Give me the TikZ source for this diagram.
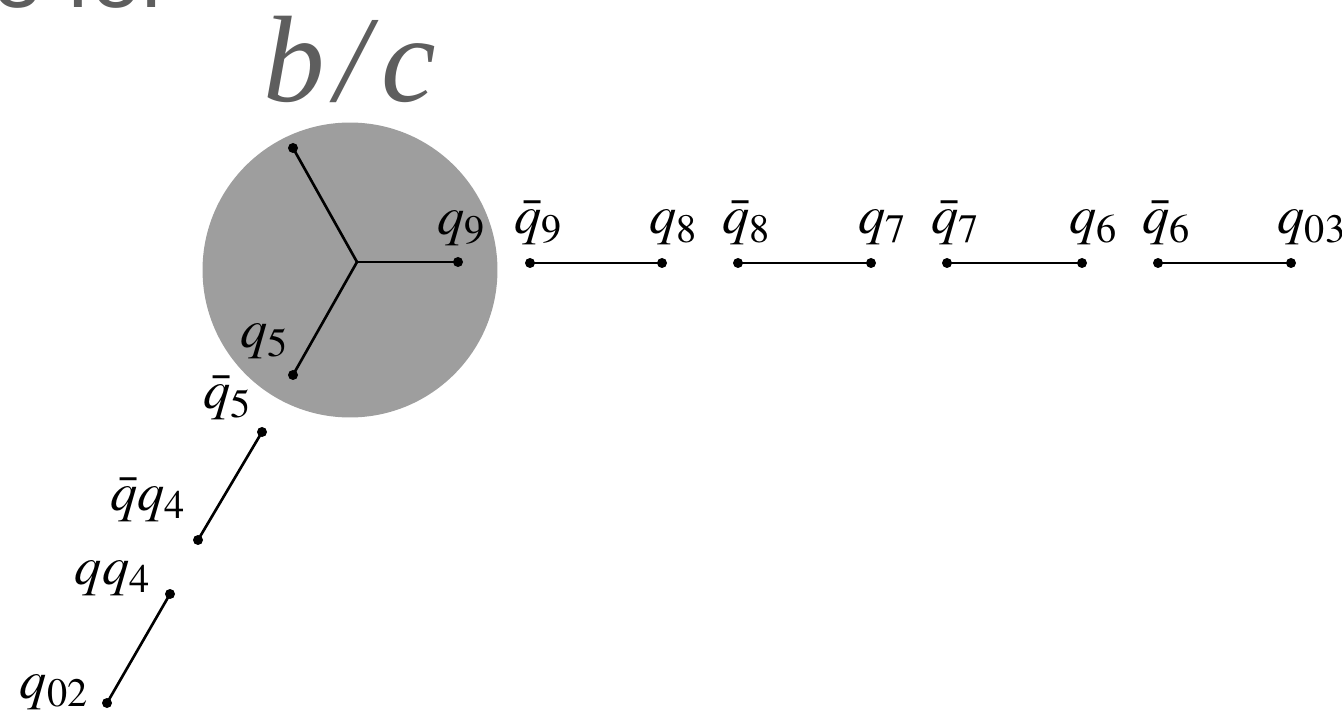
\documentclass[tikz,border=0pt]{standalone}
\usepackage{mathptmx}
\usepackage{fontspec}
\usetikzlibrary{positioning}
\definecolor{mygray}{rgb}{0.62, 0.62, 0.62}
\definecolor{mytext}{rgb}{0.37, 0.37, 0.37}
\newfontfamily\titlefont{Liberation Sans}
\newfontfamily\labelfont{Liberation Serif}
\tikzstyle{dot} = [circle, fill=black, inner sep=0pt, minimum size=0.2cm]
\tikzstyle{qlabel} = [inner sep=0pt, font=\fontsize{31}{35}\selectfont]
\tikzstyle{bond} = [line width=1.5pt]

\begin{document}
\begin{tikzpicture}[x=0.02cm, y=-0.02cm]
    \useasboundingbox (0,0) rectangle (1342,712);
    \node (title) [anchor=base west, inner sep=0pt, text=mytext, font=\fontsize{51}{60}\titlefont] at (-8,8) {e for};
    \node (blob) [circle, fill=mygray, minimum size=5.9cm, inner sep=0pt] at (350,270) {};
    \node (bc) [text=mytext, inner sep=0pt, font=\fontsize{70}{76}\labelfont\itshape] at (350,59) {b\kern0.08em/\kern0.1em c};
    % three-arm junction inside the disc
    \coordinate (j) at (357,262);
    \node (up) [dot] at (293,148) {};
    \node (d9) [dot] at (458,262) {};
    \node (d5) [dot] at (293,375) {};
    \draw[bond] (j) -- (up.center);
    \draw[bond] (j) -- (d9.center);
    \draw[bond] (j) -- (d5.center);
    \node (l9) [qlabel, above right=0.23cm and -0.49cm of d9] {$q_9$};
    \node (l5) [qlabel, above left=0.23cm and 0cm of d5] {$q_5$};
    % horizontal pairs
    \node (b9) [dot] at (530,263) {};
    \node (e8) [dot] at (662,263) {};
    \node (b8) [dot] at (738,263) {};
    \node (e7) [dot] at (871,263) {};
    \node (b7) [dot] at (947,263) {};
    \node (e6) [dot] at (1082,263) {};
    \node (b6) [dot] at (1158,263) {};
    \node (e03) [dot] at (1291,263) {};
    \draw[bond] (b9.center) -- (e8.center);
    \draw[bond] (b8.center) -- (e7.center);
    \draw[bond] (b7.center) -- (e6.center);
    \draw[bond] (b6.center) -- (e03.center);
    \node (lb9) [qlabel, above right=0.27cm and -0.39cm of b9] {$\bar{q}_9$};
    \node (le8) [qlabel, above right=0.27cm and -0.33cm of e8] {$q_8$};
    \node (lb8) [qlabel, above right=0.27cm and -0.39cm of b8] {$\bar{q}_8$};
    \node (le7) [qlabel, above right=0.27cm and -0.33cm of e7] {$q_7$};
    \node (lb7) [qlabel, above right=0.27cm and -0.39cm of b7] {$\bar{q}_7$};
    \node (le6) [qlabel, above right=0.27cm and -0.33cm of e6] {$q_6$};
    \node (lb6) [qlabel, above right=0.27cm and -0.39cm of b6] {$\bar{q}_6$};
    \node (le03) [qlabel, above right=0.27cm and -0.35cm of e03] {$q_{03}$};
    % lower-left pairs
    \node (b5) [dot] at (262,432) {};
    \node (bq4) [dot] at (198,540) {};
    \node (q4) [dot] at (170,594) {};
    \node (q02) [dot] at (107,703) {};
    \draw[bond] (b5.center) -- (bq4.center);
    \draw[bond] (q4.center) -- (q02.center);
    \node (lb5) [qlabel, above left=0.15cm and 0.12cm of b5] {$\bar{q}_5$};
    \node (lbq4) [qlabel, above left=0.28cm and 0.16cm of bq4] {$\bar{q}q_4$};
    \node (lq4) [qlabel, left=0.28cm of q4, yshift=0.32cm] {$qq_4$};
    \node (lq02) [qlabel, left=0.26cm of q02, yshift=0.22cm] {$q_{02}$};
\end{tikzpicture}
\end{document}
